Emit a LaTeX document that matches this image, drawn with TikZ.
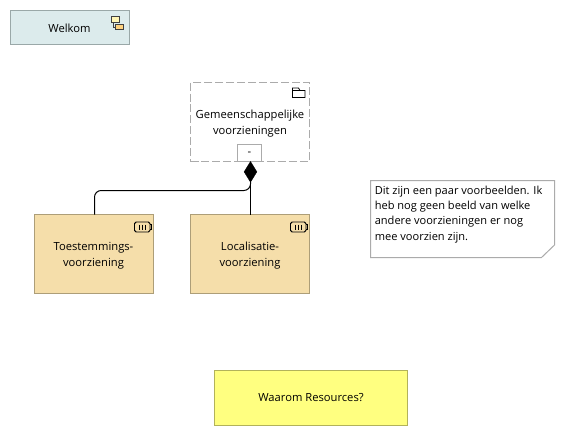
\documentclass[tikz,border=0pt]{standalone}
\usepackage{fontspec}
\setmainfont{Open Sans}
\usetikzlibrary{shapes.geometric}
\definecolor{welkfill}{HTML}{DCEBEC}
\definecolor{welkline}{HTML}{9AA8A8}
\definecolor{compfill}{HTML}{F5DEAA}
\definecolor{compline}{HTML}{AD9E78}
\definecolor{yellowfill}{HTML}{FFFF80}
\definecolor{yellowline}{HTML}{B2B25A}
\definecolor{greyline}{HTML}{ABABAB}
\definecolor{iconA}{HTML}{FFF5B5}
\definecolor{iconB}{HTML}{FFD27F}
\tikzset{
  box/.style={draw, line width=0.75pt, outer sep=0pt, minimum width=89.25pt, minimum height=59.25pt, anchor=north west, inner sep=0pt, align=center},
  label/.style={font=\fontsize{8.4pt}{11.6pt}\selectfont, align=center},
  comp/.style={box, fill=compfill, draw=compline},
  conn/.style={line width=0.75pt, black, rounded corners=5pt},
  icon/.style={line width=0.6pt, draw=black!75}
}
\begin{document}
\begin{tikzpicture}[x=0.75pt,y=-0.75pt]
\useasboundingbox (0,0) rectangle (565,436);
\fill[white] (0,0) rectangle (565,436);
% Welkom
\node[box, fill=welkfill, draw=welkline, minimum height=25.5pt] (welkom) at (10.5,10.5) {};
\node[label] (welkomtext) at (69.5,28) {Welkom};
\draw[icon, fill=iconA] (111.5,16.5) rectangle (119.5,22.5);
\draw[icon, fill=iconB] (115.5,24.5) rectangle (123.5,29.5);
\draw[icon] (113.5,22.5) -- (113.5,27) -- (115.5,27);
% Group
\node[box, draw=greyline, dash pattern=on 6pt off 2.2pt, fill=white] (group) at (190.5,82.5) {};
\node[label] (grouptext) at (250,123.5) {Gemeenschappelijke\\voorzieningen};
\draw[icon, draw=black] (292.5,97.5) -- (292.5,88) -- (298.5,88) -- (300,90.5) -- (305,90.5) -- (305,97.5) -- cycle;
\draw[icon, draw=black] (292.5,90.5) -- (300,90.5);
\node[draw=greyline, line width=0.75pt, outer sep=0pt, fill=white, minimum width=18pt, minimum height=12.75pt, inner sep=0pt, anchor=north west, font=\fontsize{8.4pt}{10pt}\selectfont] (minus) at (237.5,144.5) {\raisebox{-3pt}{-}};
% Components
\node[comp] (toest) at (34.5,214.5) {};
\node[label] (toesttext) at (93.5,255.5) {Toestemmings-\\voorziening};
\node[comp] (local) at (190.5,214.5) {};
\node[label] (localtext) at (250,255.5) {Localisatie-\\voorziening};
\foreach \ox in {0,156}{
  \begin{scope}[shift={(\ox,0)}]
  \draw[line width=0.7pt, rounded corners=1.2pt, black] (134.5,222) rectangle (150,232);
  \draw[line width=0.7pt, black] (150,224.5) -- (151.5,224.5) -- (151.5,229.5) -- (150,229.5);
  \draw[line width=0.7pt, black] (139,224.5) -- (139,229.5) (142,224.5) -- (142,229.5) (145,224.5) -- (145,229.5);
  \end{scope}
}
% Composition
\node[diamond, fill=black, draw=black, line width=0.3pt, outer sep=0pt, minimum width=9.5pt, minimum height=15.5pt, inner sep=0pt, anchor=north] (dia) at (250.5,161.5) {};
\draw[conn] (dia.south) -- (dia.south |- local.north);
\draw[conn] (dia.south) -- (250.5,190.5) -- (94.5,190.5) -- (94.5,214.5);
% Note
\draw[greyline, line width=0.75pt, fill=white] (370.5,180.5) -- (554.5,180.5) -- (554.5,245) -- (541.5,257.5) -- (370.5,257.5) -- cycle;
\node[anchor=north west, inner sep=0pt, align=left, font=\fontsize{8.3pt}{11.5pt}\selectfont] (notetext) at (374.5,185.5) {Dit zijn een paar voorbeelden. Ik\\heb nog geen beeld van welke\\andere voorzieningen er nog\\mee voorzien zijn.};
% Yellow
\node[box, fill=yellowfill, draw=yellowline, minimum width=144.75pt, minimum height=41.25pt] (waarom) at (214.5,370.5) {};
\node[label] (waaromtext) at (311,398) {Waarom Resources?};
\end{tikzpicture}
\end{document}
